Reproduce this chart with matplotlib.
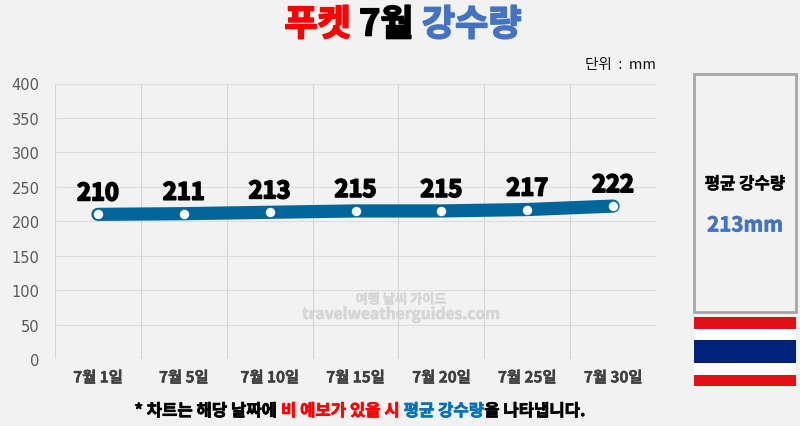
import matplotlib
matplotlib.use('Agg')
import matplotlib.pyplot as plt
import matplotlib.patheffects as pe
from matplotlib.patches import Rectangle

plt.rcParams['font.family'] = ['Noto Sans CJK KR', 'DejaVu Sans']

days = ['7월 1일', '7월 5일', '7월 10일', '7월 15일', '7월 20일', '7월 25일', '7월 30일']
rain = [210, 211, 213, 215, 215, 217, 222]
yticks = [0, 50, 100, 150, 200, 250, 300, 350, 400]
title_parts = [('푸켓', '#ff0000'), (' 7월 ', '#000000'), ('강수량', '#4472c4')]
note_parts = [('* 차트는 해당 날짜에 ', '#000000'), ('비 예보가 있을 시', '#ff0000'),
              (' ', '#000000'), ('평균 강수량', '#0070c0'), ('을 나타냅니다.', '#000000')]
flag_colors = ['#e20f17', '#ffffff', '#00247d', '#ffffff', '#e20f17']
flag_sizes = [1, 1, 2, 1, 1]

W, H = 800, 427
BG = '#f2f2f2'


def thick(w, c):
    return [pe.withStroke(linewidth=w, foreground=c)]


def colored_line(fig, parts, cx, cy, size, stroke):
    # draw the pieces left to right, then shift so the whole line is centred
    r = fig.canvas.get_renderer()
    texts = []
    x = 0
    for s, c in parts:
        t = fig.text(x / W, 1 - cy / H, s.replace(' ', '\u00a0'), color=c, fontsize=size, fontweight='bold',
                     ha='left', va='center', path_effects=thick(stroke, c))
        x += t.get_window_extent(r).width
        texts.append(t)
    start = cx - x / 2
    for t in texts:
        px, py = t.get_position()
        t.set_position((px + start / W, py))


fig = plt.figure(figsize=(W / 100, H / 100), dpi=100, facecolor=BG)
ax = fig.add_axes([55 / W, 1 - 360 / H, (656 - 55) / W, (360 - 84.5) / H], facecolor=BG)

x = list(range(len(days)))
ax.plot(x, rain, color='#006699', lw=9.5, solid_capstyle='round', zorder=3)
ax.plot(x, rain, ls='none', marker='o', mfc='white', mec='none', ms=6.8, zorder=4)
for i, v in zip(x, rain):
    ax.annotate(str(v), (i, v), xytext=(0, 6.5), textcoords='offset points', ha='center', va='bottom',
                fontsize=17, fontweight='bold', color='black', path_effects=thick(1.3, 'black'),
                zorder=5)

ax.set_xlim(-0.5, 6.5)
ax.set_ylim(0, 400)
ax.set_yticks(yticks)
ax.set_xticks(x)
ax.set_xticklabels(days, fontsize=11, fontweight='bold', color='#404040',
                   path_effects=thick(0.3, '#404040'))
ax.set_yticklabels([str(v) for v in yticks], fontfamily='DejaVu Sans', fontsize=10.5, color='#595959')
ax.tick_params(length=0)
ax.tick_params(axis='x', pad=7.5)
ax.tick_params(axis='y', pad=11)
for s in ax.spines.values():
    s.set_visible(False)
ax.grid(axis='y', color='#dddddd', lw=0.8)
for v in [i - 0.5 for i in x]:
    ax.axvline(v, color='#d4d4d4', lw=0.8, zorder=1)
ax.set_axisbelow(True)

colored_line(fig, title_parts, 403, 26, 26, 1.2)
colored_line(fig, note_parts, 360, 412, 12, 0.5)

fig.text(656 / W, 1 - 65.5 / H, '단위\u00a0\u00a0:\u00a0\u00a0mm', fontsize=10.5, ha='right', va='center', color='#111111',
         fontweight='medium')
fig.text(401 / W, 1 - 300.5 / H, '여행 날씨 가이드', fontsize=9.5, fontweight='bold', color='#d6d6d6', ha='center', va='center',
         path_effects=thick(0.4, '#d6d6d6'))
fig.text(401 / W, 1 - 315 / H, 'travelweatherguides.com', fontsize=11.2, fontweight='bold', color='#d6d6d6',
         ha='center', va='center', path_effects=thick(0.4, '#d6d6d6'))

# side panel
fig.add_artist(Rectangle((694 / W, 1 - 313 / H), 102 / W, 238 / H, transform=fig.transFigure,
                         fc=BG, ec='#a6a6a6', lw=2))
fig.text(745 / W, 1 - 185 / H, '평균 강수량', fontsize=12, fontweight='bold', color='black', ha='center', va='center',
         path_effects=thick(0.3, 'black'))
fig.text(745 / W, 1 - 226 / H, '213mm', fontsize=14.8, fontweight='bold', color='#4472c4', ha='center', va='center',
         path_effects=thick(0.5, '#4472c4'))

# flag
top = 318
unit = 69 / sum(flag_sizes)
for c, n in zip(flag_colors, flag_sizes):
    fig.add_artist(Rectangle((693.5 / W, 1 - (top + n * unit) / H), 102.5 / W, n * unit / H,
                             transform=fig.transFigure, fc=c, ec='none'))
    top += n * unit

fig.savefig('out.png', dpi=100, facecolor=BG)
